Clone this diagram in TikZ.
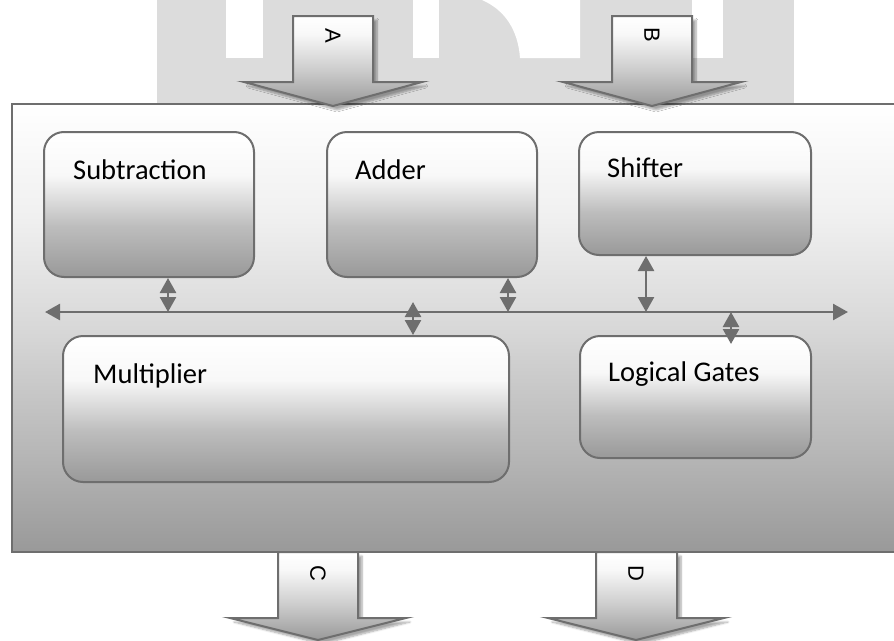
\documentclass[tikz,border=0pt]{standalone}
\usepackage{fontspec}
\setmainfont{Carlito}
\newfontfamily\arialf{Liberation Sans}
\usetikzlibrary{arrows.meta,shadows.blur,calc}
\definecolor{edge}{HTML}{6E6E6E}
\definecolor{wm}{HTML}{DCDCDC}
\definecolor{gNine}{HTML}{999999}
\definecolor{gBD}{HTML}{BDBDBD}
\definecolor{gF8}{HTML}{F8F8F8}
\definecolor{gF0}{HTML}{F0F0F0}
\definecolor{gD8}{HTML}{D8D8D8}
\definecolor{gB4}{HTML}{B4B4B4}
\definecolor{gCC}{HTML}{CCCCCC}
\pgfdeclareverticalshading{innershade}{100bp}{color(0bp)=(gNine); color(25bp)=(gNine); color(42.5bp)=(gBD); color(60bp)=(gF8); color(75bp)=(white); color(100bp)=(white)}
\pgfdeclareverticalshading{outershade}{100bp}{color(0bp)=(gNine); color(25bp)=(gNine); color(35bp)=(gB4); color(50bp)=(gD8); color(62.5bp)=(gF0); color(75bp)=(white); color(100bp)=(white)}
\pgfdeclareverticalshading{arrowshade}{100bp}{color(0bp)=(gNine); color(25bp)=(gNine); color(45bp)=(gCC); color(65bp)=(gF8); color(75bp)=(white); color(100bp)=(white)}
\tikzset{
  unit/.style={shade, shading=innershade, draw=edge, line width=2pt, rounded corners=20pt, inner sep=0pt},
  lbl/.style={font=\fontsize{28.5}{30}\selectfont, inner sep=0pt, anchor=base west},
  lettr/.style={font=\arialf\fontsize{22}{22}\selectfont, rotate=-90, inner sep=0pt},
  bigarrow/.style={draw=edge, line width=2pt, line join=miter, shading=arrowshade,
     blur shadow={shadow xshift=4pt, shadow yshift=-4pt, shadow blur steps=6, shadow opacity=35}},
  link/.style={draw=edge, line width=2.5pt, {Triangle[length=15pt,width=16pt]}-{Triangle[length=15pt,width=16pt]}},
}
\begin{document}
\begin{tikzpicture}[x=1pt,y=-1pt]
\useasboundingbox (0,0) rectangle (894,640);
% watermark
\fill[wm] (157,0) rectangle (794,104);
\fill[white] (226,0) rectangle (263,58);
\fill[white] (413,0) rectangle (439,58);
\fill[white] (482,0) .. controls (505,10) and (518,30) .. (520,58) -- (580,58) -- (580,0) -- cycle;
\fill[white] (692,0) rectangle (723,58);
% outer box
\shade[shading=outershade, draw=edge, line width=2pt] (12,104) rectangle (900,552);
% units
\node[unit, minimum width=210pt, minimum height=145pt] (sub) at (149,204.5) {};
\node[unit, minimum width=210pt, minimum height=145pt] (add) at (432,204.5) {};
\node[unit, minimum width=232pt, minimum height=123pt] (shf) at (695,193.5) {};
\node[unit, minimum width=446pt, minimum height=146pt] (mul) at (286,409) {};
\node[unit, minimum width=231pt, minimum height=122pt] (lg) at (695.5,397) {};
\node[lbl] (tsub) at (73,179) {Subtraction};
\node[lbl] (tadd) at (355,179) {Adder};
\node[lbl] (tshf) at (607,177) {Shifter};
\node[lbl] (tmul) at (93,383) {Multiplier};
\node[lbl] (tlg) at (608,381) {Logical Gates};
% bus
\coordinate (busL) at (45,312);
\coordinate (busR) at (848,312);
\draw[link] (busL) -- (busR);
\draw[link] ($(sub.south)+(19,0)$) -- ($(sub.south |- busL)+(19,0)$);
\draw[link] ($(add.south)+(76,0)$) -- ($(add.south |- busL)+(76,0)$);
\draw[link] ($(shf.south)+(-49,0)$) -- ($(shf.south |- busL)+(-49,0)$);
\draw[link] ($(mul.north |- busL)+(127,-10)$) -- ($(mul.north)+(127,0)$);
\draw[link] ($(lg.north |- busL)+(35.5,0)$) -- ($(lg.north)+(35.5,9)$);
% big arrows
\shade[bigarrow] (293,16) -- (373,16) -- (373,82) -- (422,82) -- (333,106) -- (244,82) -- (293,82) -- cycle;
\shade[bigarrow] (612,16) -- (692,16) -- (692,82) -- (741,82) -- (652,106) -- (563,82) -- (612,82) -- cycle;
\shade[bigarrow] (278,552) -- (358,552) -- (358,618) -- (406,618) -- (318,640) -- (230,618) -- (278,618) -- cycle;
\shade[bigarrow] (596,552) -- (677,552) -- (677,618) -- (724,618) -- (636,640) -- (548,618) -- (596,618) -- cycle;
\node[lettr] (la) at (333,36) {A};
\node[lettr] (lb) at (652,35) {B};
\node[lettr] (lc) at (318,573) {C};
\node[lettr] (ld) at (636,573) {D};
\end{tikzpicture}
\end{document}
